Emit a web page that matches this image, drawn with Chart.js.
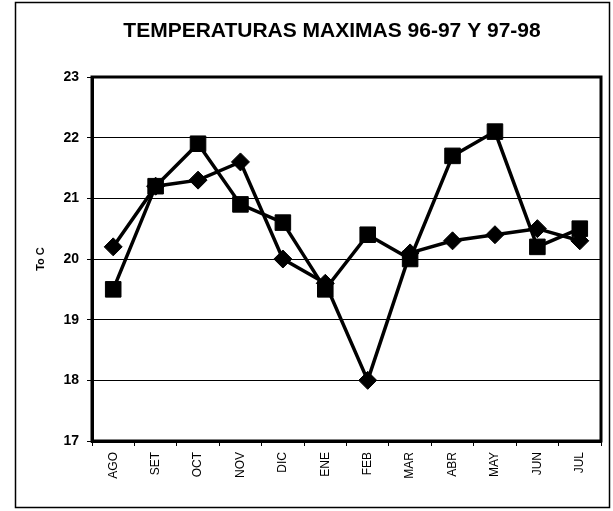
<!DOCTYPE html>
<html>
<head>
<meta charset="utf-8">
<script src="https://cdn.jsdelivr.net/npm/chart.js@4/dist/chart.umd.min.js"></script>
<style>
  html, body { margin: 0; padding: 0; background: #fff; }
  canvas { display: block; }
</style>
</head>
<body>
<canvas id="tempChart" width="613" height="511"></canvas>
<script>
const chartTitle = "TEMPERATURAS MAXIMAS 96-97 Y 97-98";
const months = ["AGO", "SET", "OCT", "NOV", "DIC", "ENE", "FEB", "MAR", "ABR", "MAY", "JUN", "JUL"];
const temps9697 = [20.2, 21.2, 21.3, 21.6, 20.0, 19.6, 18.0, 20.1, 20.3, 20.4, 20.5, 20.3];
const temps9798 = [19.5, 21.2, 21.9, 20.9, 20.6, 19.5, 20.4, 20.0, 21.7, 22.1, 20.2, 20.5];
const yMin = 17;
const yMax = 23;

// frame round the whole picture, title, and frame round the plot area
const frames = {
    id: 'frames',
    beforeDraw(chart) {
        const ctx = chart.ctx;
        ctx.save();
        ctx.fillStyle = '#fff';
        ctx.fillRect(0, 0, chart.width, chart.height);
        ctx.strokeStyle = '#000';
        ctx.lineWidth = 1.5;
        ctx.strokeRect(15.5, 2.5, 594, 505);
        ctx.fillStyle = '#000';
        ctx.font = 'bold 21px "Liberation Sans", Arial';
        ctx.textAlign = 'center';
        ctx.textBaseline = 'middle';
        ctx.fillText(chartTitle, 332, 31);
        ctx.restore();
    },
    afterDatasetsDraw(chart) {
        const a = chart.chartArea;
        const ctx = chart.ctx;
        ctx.save();
        ctx.strokeStyle = '#000';
        ctx.lineWidth = 3;
        ctx.strokeRect(a.left, a.top, a.right - a.left, a.bottom - a.top);
        ctx.restore();
    }
};

const ctx = document.getElementById('tempChart').getContext('2d');
new Chart(ctx, {
    type: 'line',
    data: {
        labels: months,
        datasets: [
            {
                label: '96-97',
                data: temps9697,
                borderColor: '#000',
                backgroundColor: '#000',
                borderWidth: 3.5,
                pointStyle: 'rectRot',
                pointRadius: 9,
                pointBorderWidth: 1,
                tension: 0
            },
            {
                label: '97-98',
                data: temps9798,
                borderColor: '#000',
                backgroundColor: '#000',
                borderWidth: 3.5,
                pointStyle: 'rect',
                pointRadius: 11,
                pointBorderWidth: 1,
                tension: 0
            }
        ]
    },
    options: {
        responsive: false,
        animation: false,
        layout: { padding: { left: 34, right: 7, top: 77, bottom: 0 } },
        plugins: {
            legend: { display: false },
            tooltip: { enabled: false },
            title: { display: false }
        },
        scales: {
            x: {
                offset: true,
                afterFit: s => { s.height = 70; },
                grid: { offset: true, drawOnChartArea: false, drawTicks: true, tickLength: 5, color: '#000', lineWidth: 1 },
                border: { color: '#000', width: 3 },
                ticks: {
                    color: '#000',
                    minRotation: 90,
                    maxRotation: 90,
                    padding: 6,
                    font: { family: 'Liberation Sans, Arial', size: 12 }
                }
            },
            y: {
                min: yMin,
                max: yMax,
                afterFit: s => { s.width = 58; },
                title: {
                    display: true,
                    text: 'To C',
                    color: '#000',
                    font: { family: 'Liberation Sans, Arial', size: 11, weight: 'bold' },
                    padding: 0
                },
                grid: { color: '#000', lineWidth: 1, tickLength: 5 },
                border: { color: '#000', width: 3 },
                ticks: {
                    stepSize: 1,
                    color: '#000',
                    padding: 8,
                    font: { family: 'Liberation Sans, Arial', size: 14, weight: 'bold' }
                }
            }
        }
    },
    plugins: [frames]
});
</script>
</body>
</html>
